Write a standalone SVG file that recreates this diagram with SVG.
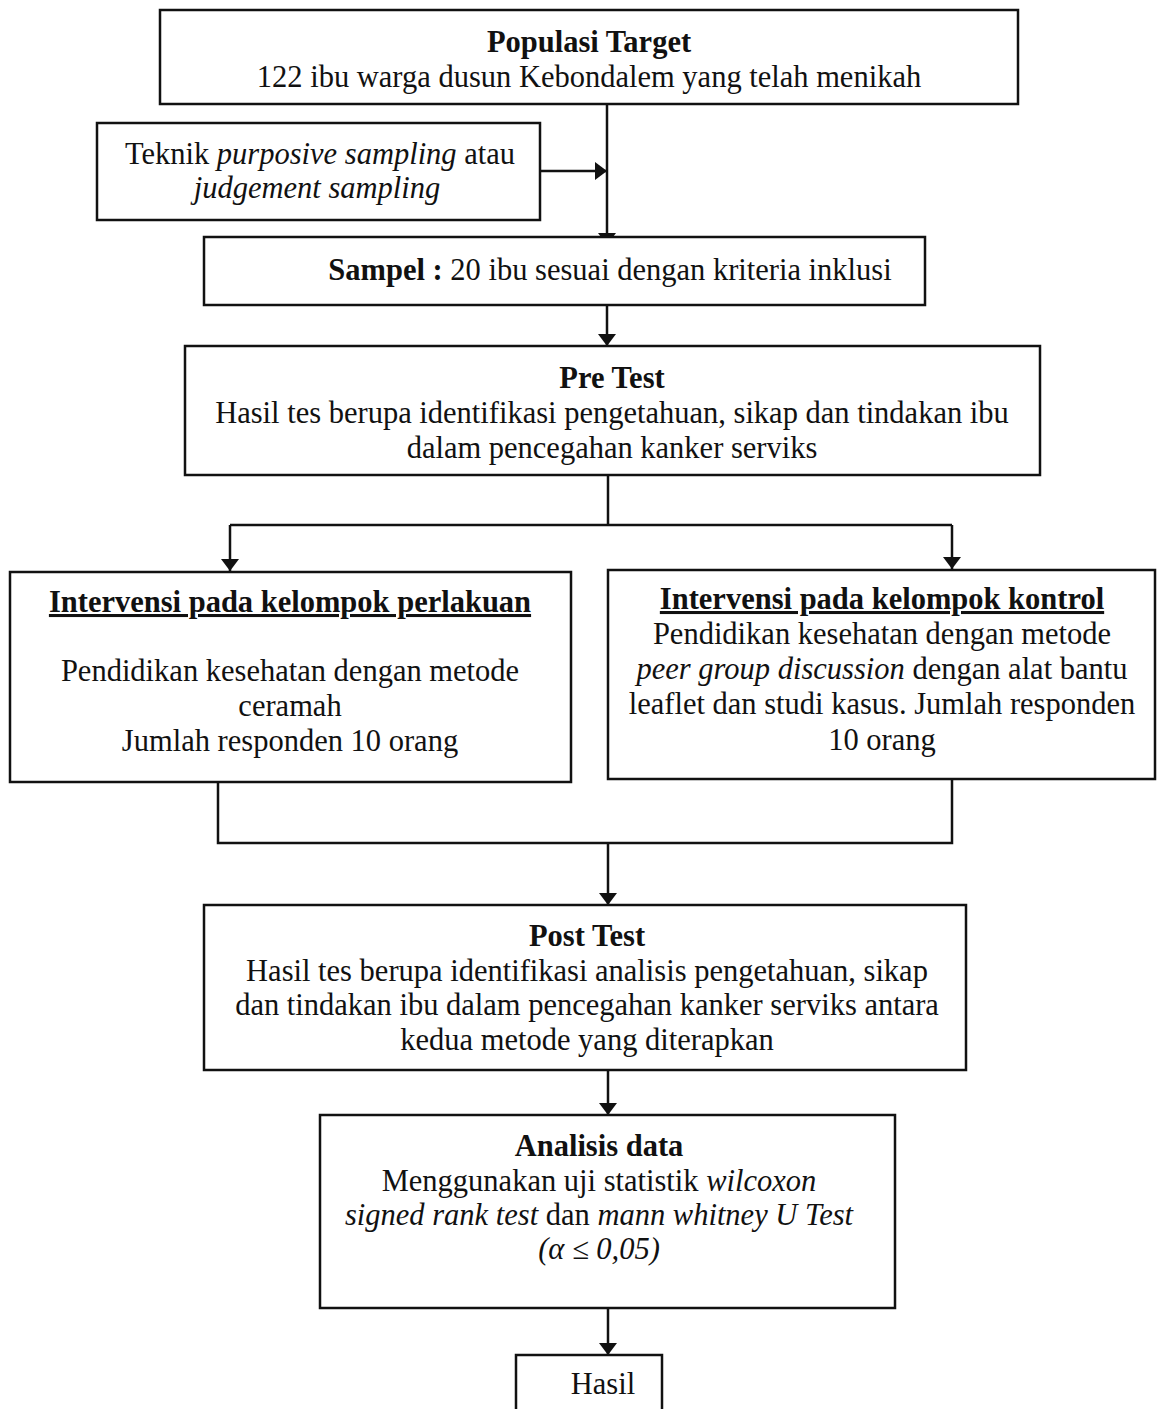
<svg xmlns="http://www.w3.org/2000/svg" width="1159" height="1409" viewBox="0 0 1159 1409">
<style>
.box{fill:#fff;stroke:#111;stroke-width:2.5}
.t{font-family:"Liberation Serif","Times New Roman",serif;font-size:30.5px;fill:#111;text-anchor:middle}
.b{font-weight:bold}
.i{font-style:italic}
.u{text-decoration:underline}
.ln{fill:none;stroke:#111;stroke-width:2.5}
</style>
<defs>
<marker id="arr" viewBox="0 0 12 18" refX="12" refY="9" markerWidth="12" markerHeight="18" markerUnits="userSpaceOnUse" orient="auto">
<path d="M0,0 L12,9 L0,18 z" fill="#111"/>
</marker>
</defs>
<rect width="1159" height="1409" fill="#fff"/>
<g id="connectors">
<path class="ln" d="M607,104 V245" marker-end="url(#arr)"/>
<path class="ln" d="M540,171 H607" marker-end="url(#arr)"/>
<path class="ln" d="M607,305 V346" marker-end="url(#arr)"/>
<path class="ln" d="M608,475 V525"/>
<path class="ln" d="M230,525 H952"/>
<path class="ln" d="M230,525 V571" marker-end="url(#arr)"/>
<path class="ln" d="M952,525 V569" marker-end="url(#arr)"/>
<path class="ln" d="M218,782 V843 H952 V779"/>
<path class="ln" d="M608,843 V905" marker-end="url(#arr)"/>
<path class="ln" d="M608,1070 V1115" marker-end="url(#arr)"/>
<path class="ln" d="M608,1308 V1355" marker-end="url(#arr)"/>
</g>
<g id="populasi">
<rect class="box" x="160" y="10" width="858" height="94"/>
<text class="t b" x="589" y="52">Populasi Target</text>
<text class="t" x="589" y="87">122 ibu warga dusun Kebondalem yang telah menikah</text>
</g>
<g id="teknik">
<rect class="box" x="97" y="123" width="443" height="97"/>
<text class="t" x="320" y="164">Teknik  <tspan class="i">purposive sampling</tspan> atau</text>
<text class="t i" x="317" y="198">judgement sampling</text>
</g>
<g id="sampel">
<rect class="box" x="204" y="237" width="721" height="68"/>
<text class="t" x="610" y="280"><tspan class="b">Sampel :</tspan> 20 ibu sesuai dengan kriteria inklusi</text>
</g>
<g id="pretest">
<rect class="box" x="185" y="346" width="855" height="129"/>
<text class="t b" x="612" y="388">Pre Test</text>
<text class="t" x="612" y="423">Hasil tes berupa identifikasi pengetahuan, sikap dan tindakan ibu</text>
<text class="t" x="612" y="458">dalam pencegahan kanker serviks</text>
</g>
<g id="perlakuan">
<rect class="box" x="10" y="572" width="561" height="210"/>
<text class="t b u" x="290" y="612">Intervensi pada kelompok perlakuan</text>
<text class="t" x="290" y="681">Pendidikan kesehatan dengan metode</text>
<text class="t" x="290" y="716">ceramah</text>
<text class="t" x="290" y="751">Jumlah responden 10 orang</text>
</g>
<g id="kontrol">
<rect class="box" x="608" y="570" width="547" height="209"/>
<text class="t b u" x="882" y="609">Intervensi pada kelompok kontrol</text>
<text class="t" x="882" y="644">Pendidikan kesehatan dengan metode</text>
<text class="t" x="882" y="679"><tspan class="i">peer group discussion</tspan> dengan alat bantu</text>
<text class="t" x="882" y="714">leaflet dan studi kasus. Jumlah responden</text>
<text class="t" x="882" y="750">10 orang</text>
</g>
<g id="posttest">
<rect class="box" x="204" y="905" width="762" height="165"/>
<text class="t b" x="587" y="946">Post Test</text>
<text class="t" x="587" y="981">Hasil tes berupa identifikasi analisis pengetahuan, sikap</text>
<text class="t" x="587" y="1015">dan tindakan ibu dalam pencegahan kanker serviks antara</text>
<text class="t" x="587" y="1050">kedua metode yang diterapkan</text>
</g>
<g id="analisis">
<rect class="box" x="320" y="1115" width="575" height="193"/>
<text class="t b" x="599" y="1156">Analisis data</text>
<text class="t" x="599" y="1191">Menggunakan uji statistik <tspan class="i">wilcoxon</tspan></text>
<text class="t" x="599" y="1225"><tspan class="i">signed rank test</tspan> dan <tspan class="i">mann whitney U Test</tspan></text>
<text class="t i" x="599" y="1259">(α ≤ 0,05)</text>
</g>
<g id="hasil">
<rect class="box" x="516" y="1355" width="146" height="70"/>
<text class="t" x="603" y="1394">Hasil</text>
</g>
</svg>
